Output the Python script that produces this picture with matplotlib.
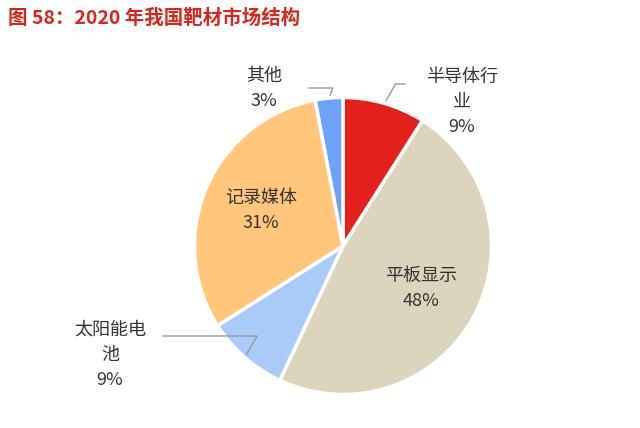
import matplotlib
matplotlib.use("Agg")
import matplotlib.pyplot as plt
import numpy as np

plt.rcParams['font.family'] = ['Noto Sans CJK SC', 'DejaVu Sans']

labels = ['半导体行业', '平板显示', '太阳能电池', '记录媒体', '其他']
values = [9, 48, 9, 31, 3]
colors = ['#E3201B', '#DDD4BE', '#AACBF7', '#FFC67C', '#6EA2F6']

fig = plt.figure(figsize=(6.4, 4.28), dpi=100)
ax = fig.add_axes([343/640 - 150/640, (428-246)/428 - 150/428, 300/640, 300/428])
wedges, _ = ax.pie(values, colors=colors, startangle=90, counterclock=False,
                   wedgeprops=dict(edgecolor='white', linewidth=2.5))
ax.set_xlim(-1.01, 1.01)
ax.set_ylim(-1.01, 1.01)
ax.set_aspect('equal')

def mid(i):
    w = wedges[i]
    a = np.deg2rad((w.theta1 + w.theta2) / 2)
    return np.cos(a), np.sin(a)

tk = dict(fontsize=13, color='#333333', ha='center', va='center')
for i, txt, r in [(1, '平板显示\n48%', 0.6), (3, '记录媒体\n31%', 0.6)]:
    x, y = mid(i)
    ax.text(x*r, y*r, txt, linespacing=1.5, **tk)

outs = [(0, '半导体行\n业\n9%', (462, 102), (408, 84)),
        (4, '其他\n3%', (264, 88), (306, 88)),
        (2, '太阳能电\n池\n9%', (110, 355), (160, 336))]
for i, txt, (px, py), (lx, ly) in outs:
    x, y = mid(i)
    fx, fy = lx/640, 1 - ly/428
    ax.annotate('', xy=(x, y), xytext=(fx, fy), textcoords='figure fraction',
                arrowprops=dict(arrowstyle='-', color='#999999', lw=1,
                                connectionstyle='angle,angleA=0,angleB=60' if i != 4 else 'angle,angleA=0,angleB=70'))
    fig.text(px/640, 1 - py/428, txt, linespacing=1.5, **tk)

fig.text(8/640, 1 - 18/428, '图 58：2020 年我国靶材市场结构', fontsize=14, fontweight='bold',
         color='#D7261E', ha='left', va='center')

fig.savefig('out.png', dpi=100)
